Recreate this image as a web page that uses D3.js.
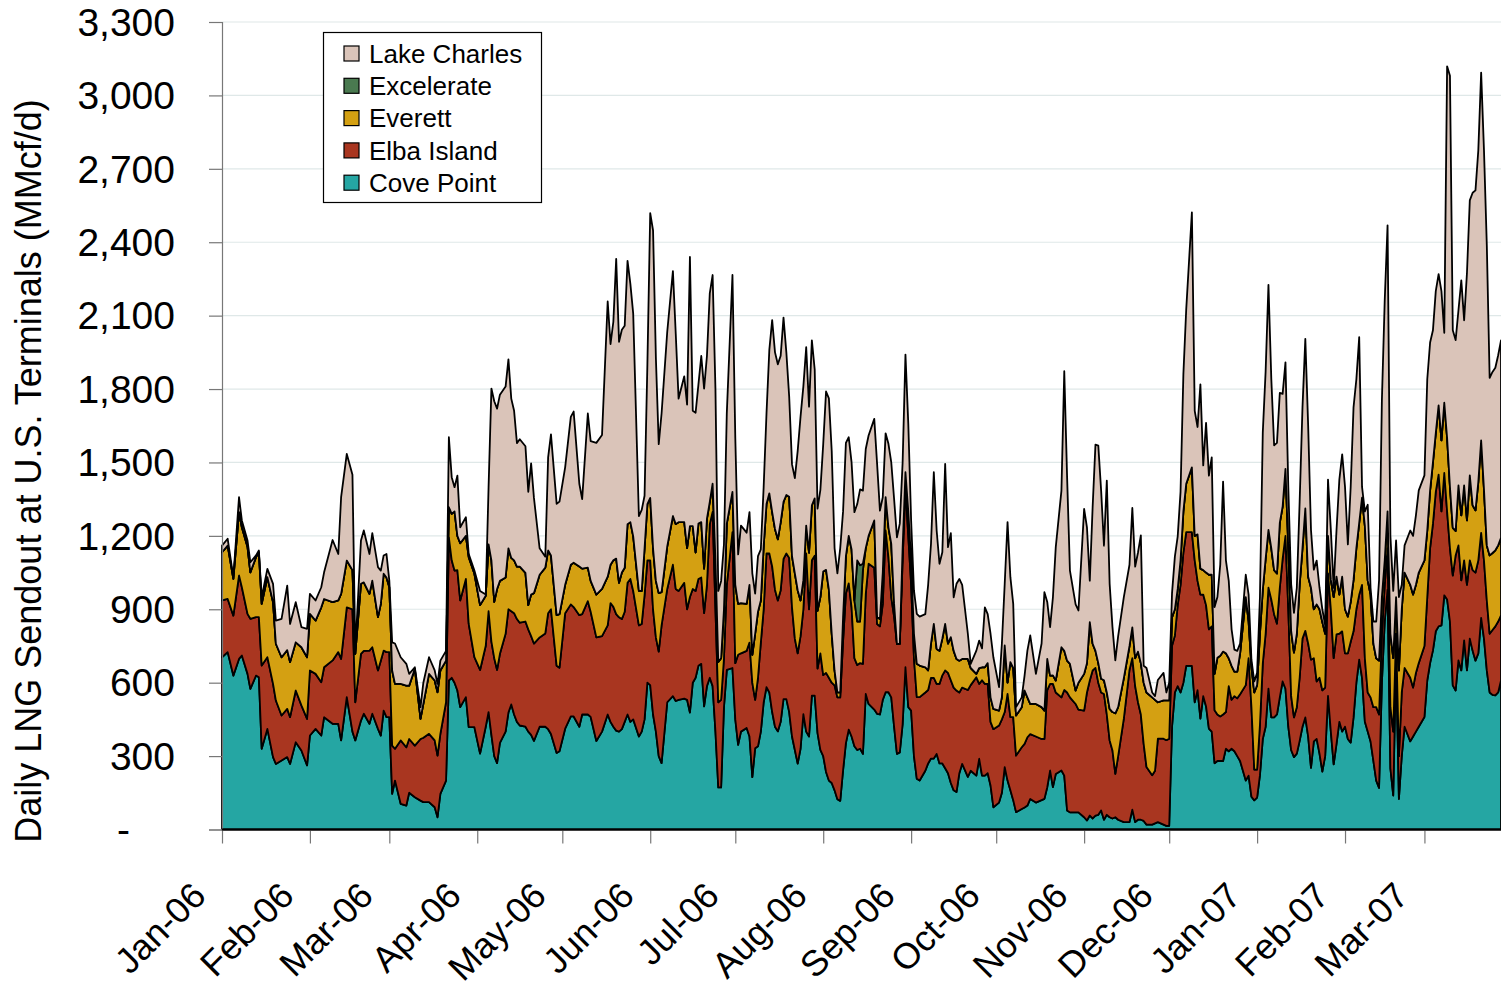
<!DOCTYPE html>
<html>
<head>
<meta charset="utf-8">
<title>Daily LNG Sendout at U.S. Terminals</title>
<script src="https://cdn.jsdelivr.net/npm/d3@7/dist/d3.min.js"></script>
<style>
    body { margin: 0; background: #fff; }
    svg { display: block; font-family: "Liberation Sans", Arial, sans-serif; }
</style>
</head>
<body>
<div id="chart"></div>
<script>
'use strict';

/*
Data (MMcf/d), dayIdx = days after 1 Jan 2006
 */
const startDate = new Date(Date.UTC(2006, 0, 1));
const lastDay = 451;

const dayIdx = [
    0,2,4,6,7,9,10,12,13,14,16,18,19,21,23,24,26,28,30,31,33,35,36,39,41,42,44,
    46,47,49,50,52,53,55,56,57,58,59,60,61,63,65,66,68,70,71,73,75,76,77,79,80,81,82,83,84,86,87,89,
    91,93,94,95,96,97,98,100,101,102,103,104,105,107,108,109,110,112,114,115,116,118,119,121,123,124,126,127,129,130,132,134,136,
    137,138,139,140,141,142,143,144,145,147,148,149,150,151,152,153,154,155,157,159,160,161,163,164,165,166,167,168,169,170,171,172,173,174,175,176,177,178,180,
    181,182,183,185,186,187,188,189,190,191,192,193,194,195,196,197,198,199,200,201,202,203,204,205,206,207,208,209,210,211,212,213,214,215,216,217,218,219,220,221,222,223,224,225,
    226,227,228,230,231,232,233,234,235,236,237,238,239,240,241,242,243,244,245,246,248,249,250,251,252,253,254,255,256,257,258,259,260,261,263,264,266,267,268,269,270,
    271,272,274,275,276,277,278,279,280,282,283,284,285,287,289,290,291,292,293,294,296,297,298,299,301,302,304,305,306,307,308,309,310,311,312,313,314,315,
    316,318,320,321,322,323,324,325,326,328,329,330,332,333,334,335,336,337,338,339,340,342,343,344,345,346,347,348,349,350,351,352,353,354,355,356,357,358,359,361,
    362,363,364,365,366,367,368,369,370,371,372,373,374,375,376,377,378,379,380,381,382,383,384,385,386,387,388,389,390,391,392,393,394,395,396,397,398,399,400,401,402,403,404,405,406,
    407,408,409,410,411,412,413,414,415,416,417,419,420,421,422,424,425,426,427,428,429,430,431,432,433,434,435,436,437,438,439,440,441,442,443,444,445,446,447,448,449,450,451
];

const covePoint = [
    704,725,629,697,711,636,575,629,622,330,411,296,268,282,296,268,357,323,262,384,411,384,459,432,432,364,541,
    400,364,445,473,432,473,411,384,486,459,459,146,200,105,98,150,132,118,112,112,91,50,146,200,609,620,600,568,500,541,418,418,
    310,420,480,387,300,271,354,400,478,511,470,440,425,420,400,387,362,420,420,410,390,313,320,412,462,462,420,470,470,460,362,400,470,
    440,420,404,400,410,440,470,440,450,380,400,450,600,590,470,400,300,271,520,545,525,530,535,530,478,600,620,669,677,503,586,620,586,400,172,172,500,652,660,
    450,346,400,415,380,214,332,340,400,519,582,560,480,420,401,440,533,533,480,380,325,269,330,471,400,380,547,547,394,325,300,235,200,190,160,124,117,242,353,408,380,340,325,330,
    309,554,513,490,473,470,530,561,561,540,420,309,315,430,663,500,486,300,207,200,240,270,290,290,309,270,270,250,230,190,160,153,230,268,215,240,220,289,220,220,230,
    180,91,110,150,255,200,160,120,71,84,90,98,125,110,120,125,173,241,173,227,241,220,78,70,70,70,50,37,57,45,57,60,78,40,60,50,45,50,
    40,30,30,81,30,40,40,35,20,20,25,30,20,15,15,420,560,586,560,600,669,669,520,569,453,545,503,412,400,271,280,280,280,330,320,330,320,300,280,200,
    220,134,119,130,222,370,420,576,458,458,470,540,605,575,420,325,296,310,362,420,458,380,252,360,370,310,237,300,546,400,266,350,440,400,420,370,355,458,600,694,620,440,400,360,280,
    200,170,600,850,980,250,139,700,125,300,420,360,380,400,420,460,609,680,732,810,830,834,957,940,850,589,568,691,650,773,650,780,730,690,720,865,780,650,560,550,548,560,609
];

const elbaIsland = [
    232,217,245,341,279,245,286,239,246,340,293,299,259,184,197,191,211,184,190,266,225,218,204,259,293,333,367,
    500,156,273,257,299,272,239,306,245,266,266,197,130,259,238,220,211,252,263,279,273,252,245,320,585,480,458,492,436,483,422,286,
    342,331,412,381,400,381,364,400,422,381,414,420,420,430,418,403,398,365,381,474,510,356,341,472,458,447,456,410,463,430,423,390,364,
    485,490,476,467,450,450,538,584,525,454,440,508,500,510,430,385,427,563,463,537,458,445,473,370,472,383,355,355,353,381,414,628,712,500,348,358,200,348,555,
    230,368,320,315,384,386,198,280,364,381,546,568,595,560,535,538,573,595,630,528,455,451,460,429,728,520,553,572,264,395,331,405,420,410,429,416,423,527,611,598,528,360,347,350,
    368,409,573,580,367,360,392,661,552,409,450,449,443,670,737,700,514,400,334,341,320,300,330,330,286,325,360,400,410,420,420,415,330,312,355,350,402,306,390,375,365,
    260,319,315,300,225,354,299,339,231,252,260,279,265,270,250,245,397,354,422,333,299,350,482,470,443,420,436,523,552,605,603,540,482,514,410,314,278,177,
    260,423,622,619,556,480,430,315,235,202,215,341,351,350,356,331,233,331,440,532,546,546,580,447,507,415,414,406,430,216,190,182,190,150,266,200,225,236,273,390,
    480,366,126,115,207,309,380,412,482,422,371,448,501,625,480,221,162,190,258,360,354,380,442,340,235,310,332,280,501,500,434,447,360,410,300,350,412,352,300,265,380,260,160,180,220,
    300,300,200,150,170,250,261,100,175,260,240,260,200,240,260,290,341,470,518,570,620,466,500,360,300,449,552,470,368,327,350,320,330,360,380,347,320,286,240,265,282,290,266
];

const everett = [
    197,218,150,259,245,273,190,245,265,252,327,334,232,238,240,225,197,238,252,231,218,306,279,238,211,266,191,
    160,198,286,280,232,272,218,232,314,305,265,307,265,231,252,218,314,82,139,245,245,259,259,170,123,190,242,140,234,176,273,341,
    265,204,273,332,230,331,298,230,249,218,216,214,229,199,99,170,206,256,269,256,220,207,219,116,162,181,199,186,137,126,175,193,199,
    157,190,227,141,190,180,240,232,223,141,135,191,230,255,249,231,239,136,174,199,265,281,248,250,290,257,157,226,226,182,270,91,115,200,165,170,200,250,165,
    320,208,205,192,236,114,270,270,172,258,202,246,222,248,250,278,233,239,250,209,267,258,146,119,114,231,225,234,236,230,423,421,360,200,61,20,20,98,153,194,237,236,178,170,
    383,187,114,193,28,30,128,136,122,218,52,0,2,50,60,100,100,100,136,129,103,80,140,220,143,135,150,190,120,176,150,129,130,117,127,70,14,65,53,68,85,
    100,83,61,91,272,46,225,201,164,164,218,163,123,133,130,116,127,34,35,49,205,160,130,137,55,110,150,120,238,109,70,80,56,56,90,129,157,248,
    200,166,98,126,114,207,210,250,305,318,290,149,157,163,157,116,107,66,100,168,198,265,100,190,106,100,133,223,211,149,232,248,257,240,114,139,100,109,167,360,
    150,164,315,345,371,301,306,236,210,180,205,265,214,274,250,266,265,300,380,370,500,273,294,200,315,280,279,220,153,120,250,236,160,223,180,150,163,210,250,294,356,540,458,420,260,
    200,220,150,100,150,300,300,150,350,340,390,380,380,360,370,350,272,236,250,240,283,290,287,300,250,195,100,245,266,306,263,347,265,254,320,378,290,225,320,315,311,311,317
];

// Excelerate only sent out gas on a few days in Aug-06 (zero elsewhere)
const excelerateDays = [224, 225, 226];
const excelerateVals = [250, 230, 26];

const lakeCharles = [
    27,28,7,61,28,27,41,7,7,27,34,75,95,157,264,156,164,82,116,82,82,82,109,254,190,395,436,
    390,12,177,212,163,194,204,136,75,96,27,115,165,109,89,48,6,48,86,68,41,34,40,40,286,150,99,246,65,76,13,13,
    58,5,235,702,820,737,761,780,772,651,611,505,521,517,463,536,389,108,45,381,495,455,460,480,604,618,338,284,630,571,620,629,1125,
    902,975,1225,985,992,989,1076,974,910,306,331,215,570,1164,1299,910,609,730,877,1001,778,505,596,586,1100,471,571,569,679,736,665,852,853,700,290,316,265,450,886,
    600,202,317,291,297,333,164,227,209,242,370,586,785,722,715,680,753,583,409,375,389,569,750,792,729,597,674,527,417,438,521,729,782,747,500,487,590,433,463,403,355,361,230,310,
    299,405,410,415,626,443,308,261,341,333,428,436,490,350,481,358,163,177,204,200,217,350,407,620,484,356,353,654,394,425,219,307,334,303,103,17,95,112,77,245,200,
    260,211,96,218,252,656,347,262,34,40,61,191,280,123,260,484,233,198,319,545,640,1143,750,381,352,295,674,555,170,558,843,889,769,550,866,511,347,216,
    290,331,332,488,374,405,522,69,100,20,15,91,112,32,72,99,215,215,280,560,712,1042,511,439,753,428,612,405,480,273,248,372,695,380,316,149,90,85,40,91,
    110,30,45,50,150,642,766,1002,693,510,534,531,460,435,250,191,162,188,340,575,693,618,236,162,179,88,52,34,230,204,38,191,470,500,500,295,471,705,690,759,44,60,309,28,90,
    150,328,804,1063,1169,400,275,231,300,100,111,222,240,284,336,347,618,604,540,580,537,610,286,1519,1680,807,780,716,960,675,1012,1124,1277,1308,1356,1503,1386,1226,726,740,746,777,807
];

// Stack order bottom -> top
const terminals = ['Cove Point', 'Elba Island', 'Everett', 'Excelerate', 'Lake Charles'];
const terminalColors = ['#25a6a3', '#a93620', '#d4a012', '#4a7a50', '#dac4b9'];
const yTickValues = [0, 300, 600, 900, 1200, 1500, 1800, 2100, 2400, 2700, 3000, 3300];
const yTitle = 'Daily LNG Sendout at U.S. Terminals (MMcf/d)';

/*
Config
 */
const svgW = 1501;
const svgH = 991;
const plot = {left: 222, right: 1501, top: 22, bottom: 829.5};

// Tools
const x = d3.scaleUtc()
    .domain([startDate, d3.utcDay.offset(startDate, lastDay)])
    .range([plot.left, plot.right]);
const y = d3.scaleLinear()
    .domain([0, 3300])
    .range([plot.bottom, plot.top]);
const color = d3.scaleOrdinal().domain(terminals).range(terminalColors);

/*
Wrangle
 */
const n = d3.min([dayIdx, covePoint, elbaIsland, everett, lakeCharles], a => a.length);
const exMap = new Map(excelerateDays.map((d, i) => [d, excelerateVals[i]]));
const rows = d3.range(n).map(i => ({
    date: d3.utcDay.offset(startDate, dayIdx[i]),
    'Cove Point': covePoint[i],
    'Elba Island': elbaIsland[i],
    'Everett': everett[i],
    'Excelerate': exMap.get(dayIdx[i]) || 0,
    'Lake Charles': lakeCharles[i]
}));
const stacked = d3.stack().keys(terminals)(rows);
const monthTicks = d3.utcMonth.range(startDate, d3.utcDay.offset(startDate, lastDay));

/*
Render
 */
const svg = d3.select('#chart')
    .append('svg')
    .attr('width', svgW)
    .attr('height', svgH);

// Gridlines
svg.append('g')
    .selectAll('line')
    .data(yTickValues.filter(d => d > 0))
    .join('line')
    .attr('x1', plot.left)
    .attr('x2', plot.right)
    .attr('y1', d => y(d))
    .attr('y2', d => y(d))
    .attr('stroke', '#dfe8e8')
    .attr('stroke-width', 1.2);

// Areas
const area = d3.area()
    .x(d => x(d.data.date))
    .y0(d => y(d[0]))
    .y1(d => y(d[1]));

svg.append('g')
    .selectAll('path')
    .data(stacked)
    .join('path')
    .attr('fill', d => color(d.key))
    .attr('stroke', '#000')
    .attr('stroke-width', 1.8)
    .attr('stroke-linejoin', 'round')
    .attr('d', area);

// Y axis
const yAxisG = svg.append('g')
    .attr('transform', `translate(${plot.left},0)`)
    .call(d3.axisLeft(y)
        .tickValues(yTickValues)
        .tickSize(13)
        .tickPadding(34)
        .tickFormat(d => d === 0 ? '-' : d3.format(',')(d)));
yAxisG.select('.domain').attr('stroke', '#777').attr('stroke-width', 1.2);
yAxisG.selectAll('.tick line').attr('stroke', '#777').attr('stroke-width', 1.2);
yAxisG.selectAll('.tick text')
    .attr('font-size', 39)
    .attr('font-family', '"Liberation Sans", Arial, sans-serif')
    .attr('fill', '#000')
    .attr('dy', '0.34em');
yAxisG.selectAll('.tick')
    .filter(d => d === 0)
    .select('text')
    .attr('x', -92);

// X axis
const xAxisG = svg.append('g')
    .attr('transform', `translate(0,${plot.bottom})`)
    .call(d3.axisBottom(x)
        .tickValues(monthTicks)
        .tickSize(14)
        .tickFormat(''));
xAxisG.select('.domain').remove();
xAxisG.selectAll('.tick line').attr('stroke', '#777').attr('stroke-width', 1.2);
svg.append('line')
    .attr('x1', plot.left)
    .attr('x2', plot.right)
    .attr('y1', plot.bottom)
    .attr('y2', plot.bottom)
    .attr('stroke', '#000')
    .attr('stroke-width', 2);

svg.append('g')
    .selectAll('text')
    .data(monthTicks)
    .join('text')
    .attr('transform', d => `translate(${x(d) - 23},889) rotate(-45)`)
    .attr('text-anchor', 'end')
    .attr('dy', '0.35em')
    .attr('font-size', 36)
    .text(d3.utcFormat('%b-%y'));

// Y title
svg.append('text')
    .attr('transform', 'translate(41,471) rotate(-90)')
    .attr('text-anchor', 'middle')
    .attr('font-size', 36)
    .text(yTitle);

// Legend (top entry = top of stack)
const legendG = svg.append('g').attr('transform', 'translate(323.5,32.5)');
legendG.append('rect')
    .attr('width', 218)
    .attr('height', 170)
    .attr('fill', '#fff')
    .attr('stroke', '#000')
    .attr('stroke-width', 1.2);
const legendItems = legendG.selectAll('.item')
    .data(terminals.slice().reverse())
    .join('g')
    .attr('class', 'item')
    .attr('transform', (d, i) => `translate(0,${21 + i * 32.3})`);
legendItems.append('rect')
    .attr('x', 20.5)
    .attr('y', -7.5)
    .attr('width', 15)
    .attr('height', 15)
    .attr('fill', d => color(d))
    .attr('stroke', '#000')
    .attr('stroke-width', 1.2);
legendItems.append('text')
    .attr('x', 45.5)
    .attr('dy', '0.35em')
    .attr('font-size', 26)
    .text(d => d);
</script>
</body>
</html>
